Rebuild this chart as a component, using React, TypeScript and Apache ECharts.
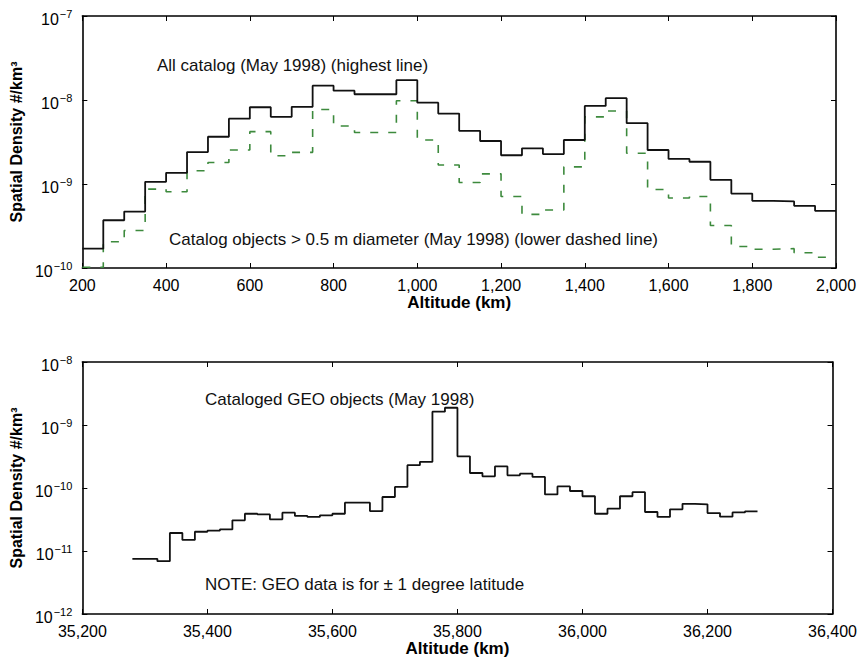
import React, { useEffect, useRef } from "react";
import * as echarts from "echarts";

// ---- LEO chart (top) ----
const leoBinEdges = [
  200, 250, 300, 350, 400, 450, 500, 550, 600, 650,
  700, 750, 800, 850, 900, 950, 1000, 1050, 1100, 1150,
  1200, 1250, 1300, 1350, 1400, 1450, 1500, 1550, 1600, 1650,
  1700, 1750, 1800, 1850, 1900, 1950, 2000,
];
const allCatalog = [
  1.7e-10, 3.7e-10, 4.7e-10, 1.06e-9, 1.36e-9, 2.4e-9, 3.65e-9, 6.0e-9, 8.2e-9, 6.3e-9,
  8.3e-9, 1.48e-8, 1.29e-8, 1.17e-8, 1.17e-8, 1.72e-8, 9.3e-9, 6.9e-9, 4.3e-9, 3.25e-9,
  2.2e-9, 2.66e-9, 2.27e-9, 3.34e-9, 8.5e-9, 1.05e-8, 5.3e-9, 2.54e-9, 1.99e-9, 1.84e-9,
  1.12e-9, 7.7e-10, 6.3e-10, 6.2e-10, 5.5e-10, 4.8e-10,
];
const largeObjects = [
  1.02e-10, 2.05e-10, 2.8e-10, 8.7e-10, 8.1e-10, 1.44e-9, 1.8e-9, 2.54e-9, 4.2e-9, 2.17e-9,
  2.38e-9, 7.7e-9, 4.9e-9, 4.1e-9, 4.1e-9, 9.8e-9, 3.34e-9, 1.68e-9, 1.04e-9, 1.32e-9,
  7.1e-10, 4.35e-10, 4.9e-10, 1.6e-9, 6.3e-9, 7.4e-9, 2.32e-9, 8.6e-10, 6.8e-10, 7.1e-10,
  3.2e-10, 1.8e-10, 1.67e-10, 1.7e-10, 1.52e-10, 1.34e-10,
];

// ---- GEO chart (bottom) ----
const geoBinEdges = [
  35280, 35300, 35320, 35340, 35360, 35380, 35400, 35420, 35440, 35460,
  35480, 35500, 35520, 35540, 35560, 35580, 35600, 35620, 35640, 35660,
  35680, 35700, 35720, 35740, 35760, 35780, 35800, 35820, 35840, 35860,
  35880, 35900, 35920, 35940, 35960, 35980, 36000, 36020, 36040, 36060,
  36080, 36100, 36120, 36140, 36160, 36180, 36200, 36220, 36240, 36260,
  36280,
];
const geoObjects = [
  7.5e-12, 7.5e-12, 6.9e-12, 1.93e-11, 1.5e-11, 2.02e-11, 2.1e-11, 2.2e-11, 3.07e-11, 3.9e-11,
  3.8e-11, 3.18e-11, 4.06e-11, 3.6e-11, 3.47e-11, 3.68e-11, 3.9e-11, 5.85e-11, 5.85e-11, 4.3e-11,
  7.2e-11, 1.04e-10, 2.3e-10, 2.6e-10, 1.63e-9, 1.88e-9, 3.18e-10, 1.73e-10, 1.53e-10, 2.2e-10,
  1.59e-10, 1.69e-10, 1.5e-10, 7.9e-11, 1.06e-10, 8.96e-11, 7.4e-11, 3.9e-11, 4.7e-11, 7.4e-11,
  8.6e-11, 4.16e-11, 3.47e-11, 4.58e-11, 5.6e-11, 5.5e-11, 4.0e-11, 3.5e-11, 4.1e-11, 4.26e-11,
];

const leoRange = { xMin: 200, xMax: 2000, xStep: 200, yMin: 1e-10, yMax: 1e-7 };
const geoRange = { xMin: 35200, xMax: 36400, xStep: 200, yMin: 1e-12, yMax: 1e-8 };

const FONT = "'Liberation Sans', Arial, Helvetica, sans-serif";

function stepData(edges: number[], values: number[]) {
  return edges.map((e, i) => [e, values[Math.min(i, values.length - 1)]]);
}

function powLabel(v: number) {
  const e = Math.round(Math.log10(v));
  return `{b|10}{s|\u2212${-e}}`;
}

const richPow = {
  b: { fontSize: 16, fontFamily: FONT, color: "#000", lineHeight: 16, padding: [7, 0, 0, 0] },
  s: { fontSize: 11, fontFamily: FONT, color: "#000", lineHeight: 12, verticalAlign: "top", padding: [0, 0, 11, 1] },
};

function axesFor(grid: number, r: typeof leoRange) {
  const tick = { show: true, inside: true, length: 5, lineStyle: { color: "#000", width: 1 } };
  const line = { show: true, lineStyle: { color: "#000", width: 1.6 } };
  const xAxes = [
    {
      type: "value", gridIndex: grid, position: "bottom", min: r.xMin, max: r.xMax, interval: r.xStep,
      axisLine: line, axisTick: tick, splitLine: { show: false },
      axisLabel: {
        color: "#000", fontSize: 16, fontFamily: FONT, margin: 9,
        formatter: (v: number) => v.toLocaleString("en-US"),
      },
      name: "Altitude (km)", nameLocation: "middle", nameGap: 26,
      nameTextStyle: { color: "#000", fontSize: 17, fontWeight: "bold", fontFamily: FONT },
    },
    {
      type: "value", gridIndex: grid, position: "top", min: r.xMin, max: r.xMax, interval: r.xStep,
      axisLine: line, axisTick: tick, axisLabel: { show: false }, splitLine: { show: false },
    },
  ];
  const yAxes = [
    {
      type: "log", logBase: 10, gridIndex: grid, position: "left", min: r.yMin, max: r.yMax,
      axisLine: line, axisTick: tick, splitLine: { show: false }, minorTick: { show: false },
      axisLabel: { formatter: powLabel, rich: richPow, margin: 10 },
      name: "Spatial Density #/km\u00B3", nameLocation: "middle", nameGap: 49,
      nameTextStyle: { color: "#000", fontSize: 16, fontWeight: "bold", fontFamily: FONT },
    },
    {
      type: "log", logBase: 10, gridIndex: grid, position: "right", min: r.yMin, max: r.yMax,
      axisLine: line, axisTick: tick, axisLabel: { show: false }, splitLine: { show: false },
      minorTick: { show: false },
    },
  ];
  return { xAxes, yAxes };
}

function annotation(text: string, x: number, y: number) {
  return {
    type: "text", x, y, silent: true,
    style: { text, fontSize: 17, fontFamily: FONT, fill: "#111", align: "left", verticalAlign: "middle" },
  };
}

export default function App() {
  const ref = useRef<HTMLDivElement>(null);
  useEffect(() => {
    if (!ref.current) return;
    const chart = echarts.init(ref.current, null, { renderer: "svg" });
    const top = axesFor(0, leoRange);
    const bottom = axesFor(1, geoRange);
    chart.setOption({
      animation: false,
      backgroundColor: "#fff",
      grid: [
        { left: 79, top: 16, width: 757, height: 252 },
        { left: 79, top: 362, width: 757, height: 252 },
      ],
      xAxis: [...top.xAxes, ...bottom.xAxes],
      yAxis: [...top.yAxes, ...bottom.yAxes],
      series: [
        {
          name: "All catalog", type: "line", step: "end", xAxisIndex: 0, yAxisIndex: 0,
          data: stepData(leoBinEdges, allCatalog), symbol: "none",
          lineStyle: { color: "#111", width: 1.8 }, z: 3,
        },
        {
          name: "Catalog objects > 0.5 m", type: "line", step: "end", xAxisIndex: 0, yAxisIndex: 0,
          data: stepData(leoBinEdges, largeObjects), symbol: "none",
          lineStyle: { color: "#3d8a3d", width: 1.6, type: [8, 10] }, z: 2,
        },
        {
          name: "Cataloged GEO objects", type: "line", step: "end", xAxisIndex: 2, yAxisIndex: 2,
          data: stepData(geoBinEdges, geoObjects), symbol: "none",
          lineStyle: { color: "#111", width: 1.8 },
        },
      ],
      graphic: [
        annotation("All catalog (May 1998) (highest line)", 157, 65),
        annotation("Catalog objects > 0.5 m diameter (May 1998) (lower dashed line)", 169, 239),
        annotation("Cataloged GEO objects (May 1998)", 205, 399),
        annotation("NOTE: GEO data is for \u00B1 1 degree latitude", 205, 584),
      ],
    });
    return () => chart.dispose();
  }, []);
  return (
    <div
      ref={ref}
      style={{ position: "fixed", left: 0, top: 0, width: 860, height: 659, background: "#fff" }}
    />
  );
}
